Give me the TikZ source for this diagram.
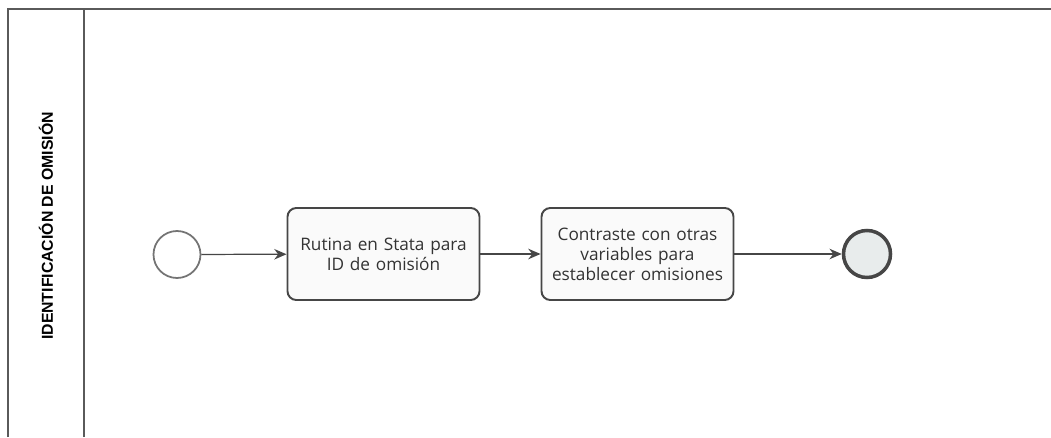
\documentclass[tikz,border=0pt]{standalone}
\usepackage{fontspec}
\setmainfont{Liberation Sans}
\newfontfamily\taskfont{Open Sans}
\usepackage{tikz}
\usetikzlibrary{arrows.meta, shapes}
\definecolor{linegray}{RGB}{70, 70, 70}
\definecolor{poolgray}{RGB}{90, 90, 90}
\definecolor{taskfill}{RGB}{250, 250, 250}
\definecolor{endfill}{RGB}{232, 236, 236}
\tikzset{
  task/.style={draw=linegray, fill=taskfill, line width=1.1pt, rounded corners=5pt, minimum width=3.84cm, minimum height=1.84cm, text width=3.6cm, align=center, font=\taskfont\fontsize{9.8}{11.4}\selectfont, text=black!80},
  startev/.style={circle, draw=linegray!75, fill=white, line width=1pt, minimum size=0.94cm, inner sep=0pt},
  endev/.style={circle, draw=linegray, fill=endfill, line width=2pt, minimum size=0.94cm, inner sep=0pt},
  flow/.style={-{Stealth[length=7pt, width=6pt]}, linegray, line width=0.7pt}
}

\begin{document}
\begin{tikzpicture}
  \useasboundingbox (0, 0) rectangle (21.02, 8.74);
  % Pool and lane
  \draw[poolgray, line width=0.7pt] (0.16, 0) -- (0.16, 8.56) -- (21.02, 8.56);
  \draw[poolgray, line width=0.7pt] (1.68, 0) -- (1.68, 8.56);
  \node[rotate=90, font=\bfseries\fontsize{9}{10}\selectfont] (lane) at (0.92, 4.22) {IDENTIFICACIÓN DE OMISIÓN};

  % Events and tasks
  \node[startev] (start) at (3.54, 3.65) {};
  \node[task] (rutina) at (7.67, 3.66) {Rutina en Stata para\\ID de omisión};
  \node[task] (contraste) at (12.75, 3.66) {Contraste con otras\\variables para\\establecer omisiones};
  \node[endev] (fin) at (17.34, 3.66) {};

  \draw[flow] (start) -- (rutina);
  \draw[flow] (rutina) -- (contraste);
  \draw[flow] (contraste) -- (fin);
\end{tikzpicture}
\end{document}
